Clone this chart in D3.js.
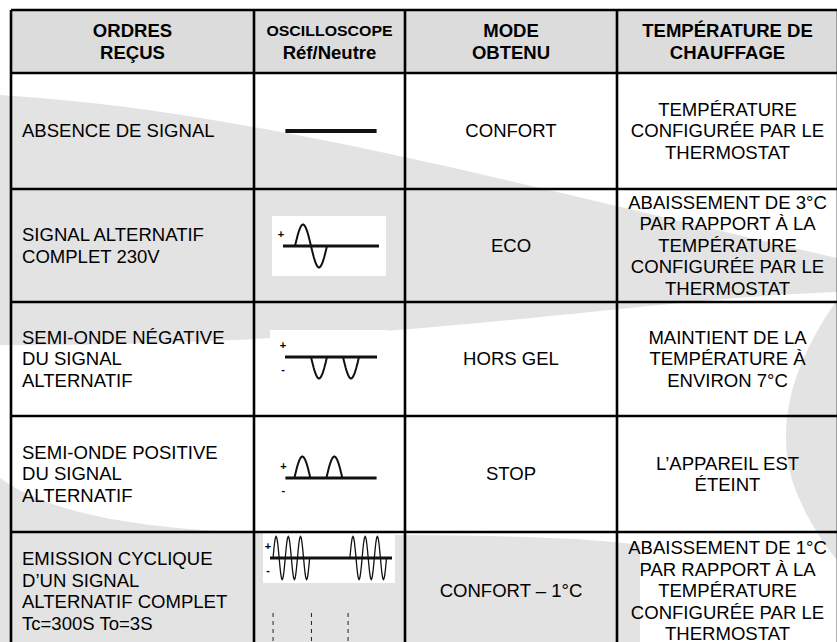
<!DOCTYPE html>
<html lang="fr">
<head>
<meta charset="UTF-8">
<title>Ordres fil pilote</title>
<script src="https://d3js.org/d3.v7.min.js"></script>
<style>
  body { margin: 0; background: #fff; }
  text { font-family: "Liberation Sans", Arial, sans-serif; fill: #000; }
</style>
</head>
<body>
<script>
// table content
const headers = [["ORDRES", "REÇUS"], ["OSCILLOSCOPE", "Réf/Neutre"], ["MODE", "OBTENU"], ["TEMPÉRATURE DE", "CHAUFFAGE"]];
const orders = [
  ["ABSENCE DE SIGNAL"],
  ["SIGNAL ALTERNATIF", "COMPLET 230V"],
  ["SEMI-ONDE NÉGATIVE", "DU SIGNAL", "ALTERNATIF"],
  ["SEMI-ONDE POSITIVE", "DU SIGNAL", "ALTERNATIF"],
  ["EMISSION CYCLIQUE", "D’UN SIGNAL", "ALTERNATIF COMPLET", "Tc=300S To=3S"]
];
const modes = [["CONFORT"], ["ECO"], ["HORS GEL"], ["STOP"], ["CONFORT – 1°C"]];
const temps = [
  ["TEMPÉRATURE", "CONFIGURÉE PAR LE", "THERMOSTAT"],
  ["ABAISSEMENT DE 3°C", "PAR RAPPORT À LA", "TEMPÉRATURE", "CONFIGURÉE PAR LE", "THERMOSTAT"],
  ["MAINTIENT DE LA", "TEMPÉRATURE À", "ENVIRON 7°C"],
  ["L’APPAREIL EST", "ÉTEINT"],
  ["ABAISSEMENT DE 1°C", "PAR RAPPORT À LA", "TEMPÉRATURE", "CONFIGURÉE PAR LE", "THERMOSTAT"]
];

// oscilloscope traces: time span in ms, half waves [start ms, sign]
const spans = [57, 60, 57.5, 57, 200];
const halfWaves = [
  [],
  [[7.5, 1], [17.5, -1]],
  [[16.25, -1], [36.25, -1]],
  [[5.6, 1], [25.6, 1]],
  [[5, 1], [15, -1], [25, 1], [35, -1], [45, 1], [55, -1],
   [131, 1], [141, -1], [151, 1], [161, -1], [171, 1], [181, -1]]
];
const signMarks = [[], ["+"], ["+", "-"], ["+", "-"], ["+", "-"]];
const cycleMarks = [5, 68, 128]; // dashed markers, row 5 (ms)

// layout
const W = 837, H = 642;
const colX = [11, 254, 405, 617, 838];
const rowY = [10, 73, 189, 302, 416, 532, 650];
const pxPerMs = [1.6, 1.6, 1.6, 1.6, 0.61];
const scopeY = [131, 246, 357, 478, 558];
const scopeBox = [null, [272, 216, 114, 60], [270, 330, 118, 60], null, [263, 533, 132, 50]];
const fs = 17.5, lh = 21.5, stretch = 1.06;

const svg = d3.select("body").append("svg").attr("width", W).attr("height", H);
svg.append("rect").attr("width", W).attr("height", H).attr("fill", "#fff");

// watermark swooshes
const wm = svg.append("g").attr("fill", "#e3e3e3");
wm.append("path").attr("d", "M0,95 C250,110 520,185 837,258 L837,292 C620,300 420,345 0,345 Z");
wm.append("path").attr("d", "M837,300 C795,360 775,420 792,480 C802,510 820,540 837,560 Z");
wm.append("path").attr("d", "M0,478 C50,515 150,532 300,534 C450,536 560,534 640,545 L640,642 L0,642 Z");

// header background
svg.append("rect").attr("x", colX[0]).attr("y", rowY[0])
  .attr("width", colX[4] - colX[0]).attr("height", rowY[1] - rowY[0]).attr("fill", "#dcdcdc");

function textBlock(g, lines, x, cy, anchor, weight, sizes) {
  const n = lines.length;
  lines.forEach((t, i) => {
    const size = sizes ? sizes[i] : fs;
    const y = cy - (n - 1) * lh / 2 + i * lh + 0.716 * size / 2;
    g.append("text")
      .attr("transform", `translate(${x},${y}) scale(${stretch},1)`)
      .attr("text-anchor", anchor)
      .attr("font-weight", weight)
      .attr("font-size", size)
      .text(t);
  });
}

const cx = i => (colX[i] + colX[i + 1]) / 2;
const cy = r => (rowY[r] + rowY[r + 1]) / 2;

const txt = svg.append("g");
headers.forEach((h, i) => textBlock(txt, h, cx(i), cy(0), "middle", "bold", i === 1 ? [15, 17.5] : null));
orders.forEach((o, r) => textBlock(txt, o, 22, cy(r + 1), "start", "normal"));
modes.forEach((m, r) => textBlock(txt, m, cx(2), cy(r + 1), "middle", "normal"));
temps.forEach((t, r) => textBlock(txt, t, cx(3), cy(r + 1), "middle", "normal"));

// oscilloscope drawings
const scopes = svg.append("g");
const scopeCx = 331;
spans.forEach((span, r) => {
  const g = scopes.append("g");
  const b = scopeBox[r];
  if (b) g.append("rect").attr("x", b[0]).attr("y", b[1]).attr("width", b[2]).attr("height", b[3]).attr("fill", "#fff");
  const w = span * pxPerMs[r];
  const x = d3.scaleLinear().domain([0, span]).range([scopeCx - w / 2, scopeCx + w / 2]);
  const y = d3.scaleLinear().domain([-1, 1]).range([scopeY[r] + 21.5, scopeY[r] - 21.5]);
  const line = d3.line().x(d => x(d[0])).y(d => y(d[1]));
  halfWaves[r].forEach(([t0, s]) => {
    const pts = d3.range(0, 13).map(k => [t0 + k * 10 / 12, s * Math.sin(k * Math.PI / 12)]);
    g.append("path").attr("d", line(pts)).attr("fill", "none")
      .attr("stroke", "#111").attr("stroke-width", r === 4 ? 1.3 : 2);
  });
  g.append("line").attr("x1", x(0)).attr("x2", x(span)).attr("y1", y(0)).attr("y2", y(0))
    .attr("stroke", "#111").attr("stroke-width", r === 0 ? 4 : 3);
  signMarks[r].forEach((m, k) => {
    g.append("text").attr("x", x(0) - 2).attr("y", y(0) + (k === 0 ? -8 : 16))
      .attr("text-anchor", "middle").attr("font-size", 11).attr("font-weight", "bold").text(m);
  });
  if (r === 4) {
    cycleMarks.forEach(t => {
      g.append("line").attr("x1", x(t)).attr("x2", x(t)).attr("y1", 613).attr("y2", H)
        .attr("stroke", "#222").attr("stroke-width", 1).attr("stroke-dasharray", "4,4");
    });
  }
});

// grid lines
const grid = svg.append("g").attr("stroke", "#000").attr("stroke-width", 2.6);
colX.forEach(xv => grid.append("line").attr("x1", xv).attr("x2", xv).attr("y1", rowY[0]).attr("y2", rowY[6]));
rowY.forEach(yv => grid.append("line").attr("x1", colX[0]).attr("x2", colX[4]).attr("y1", yv).attr("y2", yv));
</script>
</body>
</html>
